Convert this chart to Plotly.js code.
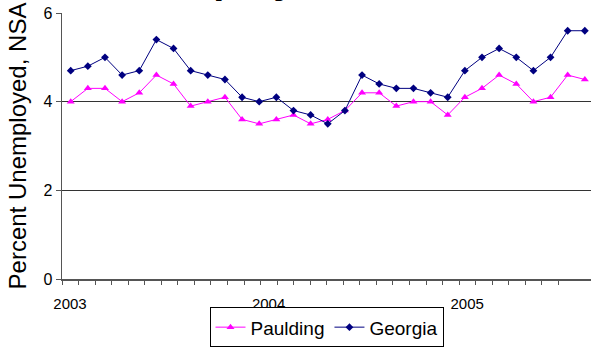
<!DOCTYPE html>
<html>
<head>
<meta charset="utf-8">
<script src="https://cdn.plot.ly/plotly-3.0.1.min.js"></script>
<style>html,body{margin:0;padding:0;background:#fff;}#chart{width:591px;height:348px;}</style>
</head>
<body>
<div id="chart"></div>
<script>
// Monthly index: 0 = Jan 2003 ... 30 = Jul 2005
const months = Array.from({length: 31}, (_, i) => i);
const paulding = [4.0,4.3,4.3,4.0,4.2,4.6,4.4,3.9,4.0,4.1,3.6,3.5,3.6,3.7,3.5,3.6,3.8,4.2,4.2,3.9,4.0,4.0,3.7,4.1,4.3,4.6,4.4,4.0,4.1,4.6,4.5];
const georgia  = [4.7,4.8,5.0,4.6,4.7,5.4,5.2,4.7,4.6,4.5,4.1,4.0,4.1,3.8,3.7,3.5,3.8,4.6,4.4,4.3,4.3,4.2,4.1,4.7,5.0,5.2,5.0,4.7,5.0,5.6,5.6];
const yearLabels = ['2003','2004','2005'];
const yTicks = [0, 2, 4, 6];

const xStart = -0.508, xEnd = 30.36, tickStep = 0.9656;
const tickvals = [], ticktext = [];
for (let k = 0; k <= 30; k++) {
  tickvals.push(xStart + k * tickStep);
  ticktext.push(k % 12 === 0 ? yearLabels[k / 12] : '');
}

const FONT = 'Liberation Sans, Arial, sans-serif';
const data = [
  {x: months, y: paulding, name: 'Paulding', type: 'scatter', mode: 'lines+markers',
   line: {color: '#FF00FF', width: 1}, marker: {symbol: 'triangle-up', size: 7, color: '#FF00FF'}},
  {x: months, y: georgia, name: 'Georgia', type: 'scatter', mode: 'lines+markers',
   line: {color: '#000080', width: 1}, marker: {symbol: 'diamond', size: 6, color: '#000080'}}
];
const layout = {
  width: 591, height: 348,
  margin: {l: 62, r: 0, t: 13, b: 69, autoexpand: false},
  paper_bgcolor: '#fff', plot_bgcolor: '#fff',
  font: {family: FONT, color: '#000'},
  title: {text: '<b>Unemployment Rate</b>', font: {family: FONT, size: 40, color: '#000'},
          x: 0.5, xref: 'container', xanchor: 'center', y: 1, yref: 'container', yanchor: 'bottom', pad: {b: 7}},
  showlegend: true,
  legend: {orientation: 'h', x: 0.5, xanchor: 'center', xref: 'paper', y: 0.002, yref: 'container', yanchor: 'bottom',
           bordercolor: '#000', borderwidth: 1, font: {family: FONT, size: 19, color: '#000'},
           itemwidth: 30, bgcolor: '#fff'},
  xaxis: {range: [xStart, xEnd], tickmode: 'array', tickvals: tickvals, ticktext: ticktext,
          ticks: 'outside', ticklen: 4, tickcolor: '#555', tickwidth: 1,
          showline: true, linecolor: '#555', linewidth: 1.5, showgrid: false, zeroline: false,
          ticklabelshift: 8, ticklabelstandoff: 6,
          tickfont: {family: FONT, size: 15, color: '#000'}},
  yaxis: {range: [0, 6], tickvals: yTicks, ticks: 'outside', ticklen: 5, tickcolor: '#555',
          showline: true, linecolor: '#555', linewidth: 1.5, showgrid: true, gridcolor: '#333', gridwidth: 1,
          zeroline: false, tickfont: {family: FONT, size: 16, color: '#000'},
          title: {text: 'Percent Unemployed, NSA', font: {family: FONT, size: 24, color: '#000'}, standoff: 10}}
};
Plotly.newPlot('chart', data, layout, {displayModeBar: false, staticPlot: true});
</script>
</body>
</html>
